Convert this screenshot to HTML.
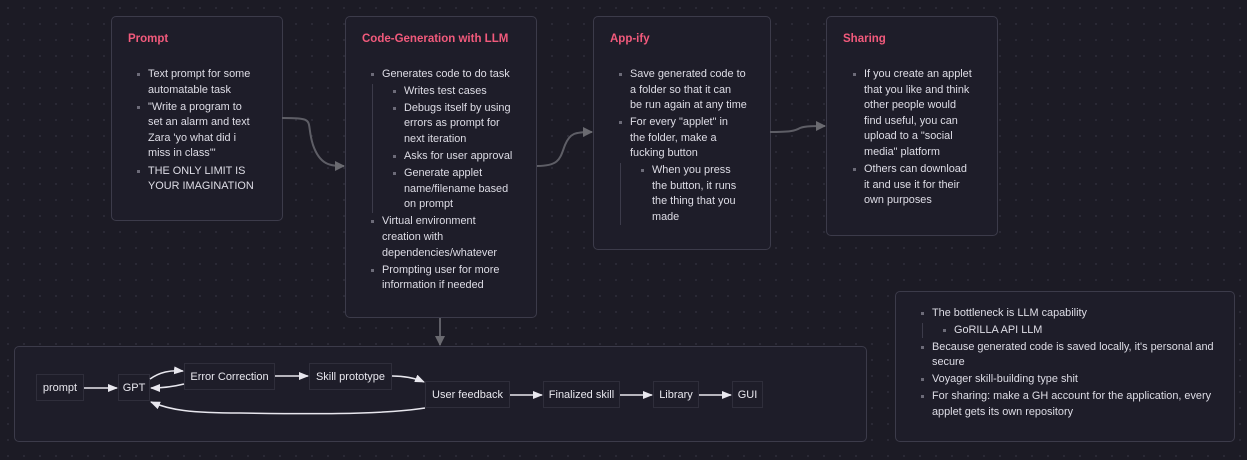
<!DOCTYPE html>
<html><head><meta charset="utf-8"><style>
*{margin:0;padding:0;box-sizing:border-box}
body{width:1247px;height:460px;background:#1c1b25;background-image:radial-gradient(circle,#2f2e3a 0.8px,transparent 1px);background-size:16px 16px;position:relative;overflow:hidden;font-family:"Liberation Sans",sans-serif;color:#dedde6;font-size:10.9px}
.box{position:absolute;background:#1e1d29;border:1px solid #3c3b4a;border-radius:5px}
.t{position:absolute;color:#f25a7c;font-size:11.5px;font-weight:bold}
ul{position:absolute;list-style:none;line-height:15.6px}
li{position:relative;padding-left:11px;margin-bottom:1.5px}
li:before{content:"";position:absolute;left:0;top:6px;width:3px;height:3px;background:#6c6b78}
ul ul{position:relative;border-left:1px solid #3c3b4a;margin-left:-10px;padding-left:20px;margin-top:1px}
.n{position:absolute;background:#1e1d29;border:1px solid #2f2e3b;color:#e8e7ee;font-size:11px;display:flex;align-items:center;justify-content:center;height:27px}
svg{z-index:5}
</style></head><body>

<div class="box" style="left:111px;top:16px;width:172px;height:205px"></div>
<div class="t" style="left:128px;top:33px">Prompt</div>
<ul style="left:137px;top:67px;width:140px">
<li>Text prompt for some<br>automatable task</li>
<li>"Write a program to<br>set an alarm and text<br>Zara 'yo what did i<br>miss in class'"</li>
<li>THE ONLY LIMIT IS<br>YOUR IMAGINATION</li></ul>

<div class="box" style="left:345px;top:16px;width:192px;height:302px"></div>
<div class="t" style="left:362px;top:33px">Code-Generation with LLM</div>
<ul style="left:371px;top:67px;width:165px">
<li>Generates code to do task
<ul><li>Writes test cases</li><li>Debugs itself by using<br>errors as prompt for<br>next iteration</li><li>Asks for user approval</li><li>Generate applet<br>name/filename based<br>on prompt</li></ul></li>
<li>Virtual environment<br>creation with<br>dependencies/whatever</li>
<li>Prompting user for more<br>information if needed</li></ul>

<div class="box" style="left:593px;top:16px;width:178px;height:234px"></div>
<div class="t" style="left:610px;top:33px">App-ify</div>
<ul style="left:619px;top:67px;width:155px">
<li>Save generated code to<br>a folder so that it can<br>be run again at any time</li>
<li>For every "applet" in<br>the folder, make a<br>fucking button
<ul><li>When you press<br>the button, it runs<br>the thing that you<br>made</li></ul></li></ul>

<div class="box" style="left:826px;top:16px;width:172px;height:220px"></div>
<div class="t" style="left:843px;top:33px">Sharing</div>
<ul style="left:853px;top:67px;width:145px">
<li>If you create an applet<br>that you like and think<br>other people would<br>find useful, you can<br>upload to a "social<br>media" platform</li>
<li>Others can download<br>it and use it for their<br>own purposes</li></ul>

<div class="box" style="left:895px;top:291px;width:340px;height:151px"></div>
<ul style="left:921px;top:306px;width:310px">
<li>The bottleneck is LLM capability
<ul><li>GoRILLA API LLM</li></ul></li>
<li>Because generated code is saved locally, it's personal and<br>secure</li>
<li>Voyager skill-building type shit</li>
<li>For sharing: make a GH account for the application, every<br>applet gets its own repository</li></ul>

<div class="box" style="left:14px;top:346px;width:853px;height:96px"></div>
<div class="n" style="left:36px;top:374px;width:48px">prompt</div>
<div class="n" style="left:118px;top:374px;width:32px">GPT</div>
<div class="n" style="left:184px;top:363px;width:91px;height:27px">Error Correction</div>
<div class="n" style="left:309px;top:363px;width:83px">Skill prototype</div>
<div class="n" style="left:425px;top:381px;width:85px">User feedback</div>
<div class="n" style="left:543px;top:381px;width:77px">Finalized skill</div>
<div class="n" style="left:653px;top:381px;width:46px">Library</div>
<div class="n" style="left:732px;top:381px;width:31px">GUI</div>

<svg width="1247" height="460" style="position:absolute;left:0;top:0">
<defs><marker id="g" markerWidth="10" markerHeight="10" refX="9" refY="5" orient="auto" markerUnits="userSpaceOnUse"><path d="M0,0L10,5L0,10z" fill="#6a6a70"/></marker>
<marker id="w" markerWidth="10" markerHeight="8" refX="9" refY="4" orient="auto" markerUnits="userSpaceOnUse"><path d="M0,0L10,4L0,8z" fill="#e8e7ee"/></marker></defs>
<g fill="none" stroke="#5e5e66" stroke-width="2">
<path d="M282,118 C318,118 305,120 313,145 C320,165 330,166 344,166" marker-end="url(#g)"/>
<path d="M537,166 C560,166 560,158 565,145 C570,133 575,132 592,132" marker-end="url(#g)"/>
<path d="M770,132 C790,132 795,131 800,128 C805,126 815,126 825,126" marker-end="url(#g)"/>
<path d="M440,318 L440,345" marker-end="url(#g)"/>
</g>
<g fill="none" stroke="#e8e7ee" stroke-width="1.5">
<path d="M84,388 L117,388" marker-end="url(#w)"/>
<path d="M150,379 C160,372 170,370 183,371" marker-end="url(#w)"/>
<path d="M184,384 C172,387 162,388 151,388" marker-end="url(#w)"/>
<path d="M275,376 L308,376" marker-end="url(#w)"/>
<path d="M392,376 C405,376 415,378 424,382" marker-end="url(#w)"/>
<path d="M425,408 C380,415 300,414 240,413 C190,413 170,410 151,402" marker-end="url(#w)"/>
<path d="M510,395 L542,395" marker-end="url(#w)"/>
<path d="M620,395 L652,395" marker-end="url(#w)"/>
<path d="M699,395 L731,395" marker-end="url(#w)"/>
</g></svg>
</body></html>
